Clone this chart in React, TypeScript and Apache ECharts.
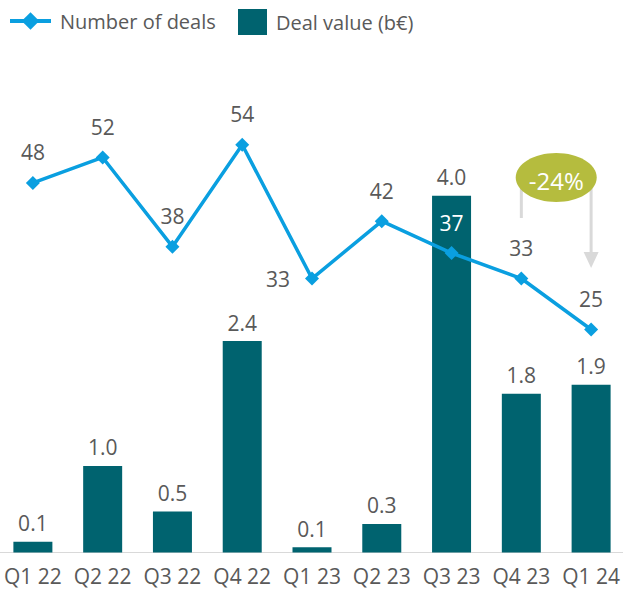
import React, { useEffect, useRef } from "react";
import * as echarts from "echarts";

const categories = ["Q1 22", "Q2 22", "Q3 22", "Q4 22", "Q1 23", "Q2 23", "Q3 23", "Q4 23", "Q1 24"];
const dealValues = [0.12, 0.97, 0.46, 2.37, 0.06, 0.32, 4.0, 1.78, 1.88];
const dealCounts = [48, 52, 38, 54, 33, 42, 37, 33, 25];
const changeLabel = "-24%";
const seriesNames = ["Number of deals", "Deal value (b€)"];

const FONT = "'Open Sans', 'Noto Sans', sans-serif";
const TEXT = "#595959";
const BAR = "#00636f";
const LINE = "#0a9fe0";
const BADGE = "#b5bc3e";
const ARROW = "#d9d9d9";

export default function App() {
  const ref = useRef<HTMLDivElement>(null);
  useEffect(() => {
    if (!ref.current) return;
    const chart = echarts.init(ref.current, undefined, { renderer: "svg" });
    chart.setOption({
      animation: false,
      textStyle: { fontFamily: FONT },
      legend: [
        {
          data: [seriesNames[0]],
          left: 8,
          top: 11,
          padding: 0,
          itemWidth: 41,
          itemHeight: 22,
          lineStyle: { width: 4 },
          textStyle: { fontFamily: FONT, fontSize: 20, color: TEXT, padding: [0, 0, 0, 4] },
        },
        {
          data: [{ name: seriesNames[1], icon: "rect" }],
          left: 238,
          top: 9,
          padding: 0,
          itemWidth: 29,
          itemHeight: 26,
          textStyle: { fontFamily: FONT, fontSize: 20, color: TEXT, padding: [0, 0, 0, 4] },
        },
      ],
      grid: { left: -2, right: -3, top: 106.5, bottom: 36.5, containLabel: false, outerBoundsMode: "none" },
      xAxis: {
        type: "category",
        data: categories,
        axisTick: { show: false },
        axisLine: { lineStyle: { color: ARROW, width: 1 } },
        axisLabel: { color: TEXT, fontSize: 21, lineHeight: 21, fontFamily: FONT, margin: 13, interval: 0 },
      },
      yAxis: [
        { type: "value", min: 0, max: 5, show: false, splitLine: { show: false } },
        { type: "value", min: -10, max: 60, show: false, splitLine: { show: false } },
      ],
      series: [
        {
          name: seriesNames[1],
          type: "bar",
          yAxisIndex: 0,
          data: dealValues,
          barWidth: 39,
          itemStyle: { color: BAR },
          label: {
            show: true,
            position: "top",
            distance: 8,
            fontSize: 21,
            fontFamily: FONT,
            color: TEXT,
            formatter: (p: any) => Number(p.value).toFixed(1),
          },
          z: 2,
        },
        {
          name: seriesNames[0],
          type: "line",
          yAxisIndex: 1,
          symbol: "diamond",
          symbolSize: 14,
          itemStyle: { color: LINE },
          lineStyle: { color: LINE, width: 3.5 },
          data: dealCounts.map((v, i) => {
            if (i === 4) return { value: v, label: { position: "left", distance: 15 } };
            if (i === 6) return { value: v, label: { color: "#ffffff" } };
            return v;
          }),
          label: {
            show: true,
            position: "top",
            distance: 13,
            fontSize: 21,
            fontFamily: FONT,
            color: TEXT,
          },
          z: 3,
        },
      ],
    });

    const n = categories.length;
    const pA = chart.convertToPixel({ seriesIndex: 1 }, [n - 2, dealCounts[n - 2]]) as number[];
    const pB = chart.convertToPixel({ seriesIndex: 1 }, [n - 1, dealCounts[n - 1]]) as number[];
    const xA = pA[0];
    const xB = pB[0];
    const cx = (xA + xB) / 2;
    const cy = 177.5;
    chart.setOption({
      graphic: [
        { type: "line", shape: { x1: xA, y1: cy + 10, x2: xA, y2: 218 }, style: { stroke: ARROW, lineWidth: 3 }, z: 10 },
        { type: "line", shape: { x1: xB, y1: cy + 10, x2: xB, y2: 254 }, style: { stroke: ARROW, lineWidth: 3 }, z: 10 },
        {
          type: "polygon",
          shape: { points: [[xB - 7.5, 252], [xB + 7.5, 252], [xB, 268]] },
          style: { fill: ARROW },
          z: 10,
        },
        { type: "ellipse", shape: { cx, cy, rx: 40.5, ry: 24.5 }, style: { fill: BADGE }, z: 11 },
        {
          type: "text",
          x: cx,
          y: cy + 3,
          style: {
            text: changeLabel,
            fill: "#ffffff",
            fontSize: 24,
            fontFamily: FONT,
            align: "center",
            verticalAlign: "middle",
          },
          z: 12,
        },
      ],
    });
    return () => chart.dispose();
  }, []);
  return (
    <div
      ref={ref}
      style={{ position: "absolute", left: 0, top: 0, width: 623, height: 589, background: "#ffffff" }}
    />
  );
}
